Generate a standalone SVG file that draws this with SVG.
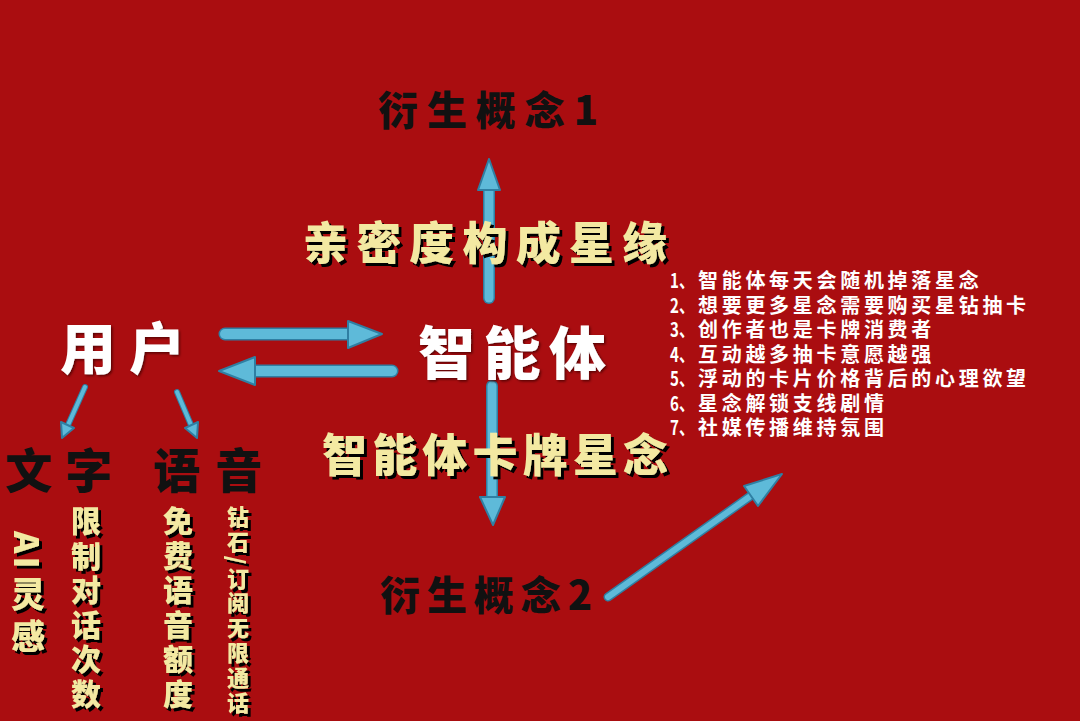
<svg xmlns="http://www.w3.org/2000/svg" width="1080" height="721" viewBox="0 0 1080 721">
<defs>
<filter id="sh" x="-10%" y="-10%" width="130%" height="140%">
<feDropShadow dx="3" dy="3" stdDeviation="0.7" flood-color="#000" flood-opacity="1"/>
</filter>
<filter id="shs" x="-10%" y="-10%" width="130%" height="140%">
<feDropShadow dx="1.5" dy="1.5" stdDeviation="0.8" flood-color="#400" flood-opacity="0.8"/>
</filter>
<style>
text{font-family:"Noto Sans CJK SC","Noto Sans",sans-serif;font-weight:900}
.blk{fill:#111}
.yel{fill:#F3E9A2;filter:url(#sh)}
.wht{fill:#fff;filter:url(#shs)}
.lst{fill:#fff;font-size:20px;font-weight:700}
.ls{letter-spacing:3.7px}
.vt{writing-mode:tb;fill:#F3E9A2;filter:url(#sh)}
.sh{fill:none;stroke:#2F7FA3;stroke-linecap:round}
.si{fill:none;stroke:#5EBAD9;stroke-linecap:round}
.hd{fill:#5EBAD9;stroke:#2F7FA3;stroke-width:2;stroke-linejoin:round}
</style>
</defs>
<rect width="1080" height="721" fill="#AA0D10"/>
<g id="connectors">
<line class="sh" x1="489" y1="298" x2="489" y2="186" stroke-width="12"/>
<line class="si" x1="489" y1="298" x2="489" y2="186" stroke-width="9"/>
<polygon class="hd" points="489,159 478,190 500,190"/>
<line class="sh" x1="492" y1="386" x2="492" y2="500" stroke-width="12"/>
<line class="si" x1="492" y1="386" x2="492" y2="500" stroke-width="9"/>
<polygon class="hd" points="480,497 505,497 493,525"/>
<line class="sh" x1="225" y1="334" x2="352" y2="334" stroke-width="13"/>
<line class="si" x1="225" y1="334" x2="352" y2="334" stroke-width="10"/>
<polygon class="hd" points="348,321 348,348 382,334"/>
<line class="sh" x1="392" y1="371" x2="250" y2="371" stroke-width="13"/>
<line class="si" x1="392" y1="371" x2="250" y2="371" stroke-width="10"/>
<polygon class="hd" points="255,357 255,385 219,371"/>
<line class="sh" x1="85" y1="387" x2="68" y2="425" stroke-width="6"/>
<line class="si" x1="85" y1="387" x2="68" y2="425" stroke-width="4"/>
<polygon class="hd" points="74,428 61,422 62,438"/>
<line class="sh" x1="177" y1="392" x2="191" y2="425" stroke-width="6"/>
<line class="si" x1="177" y1="392" x2="191" y2="425" stroke-width="4"/>
<polygon class="hd" points="198,422 185,428 197,438"/>
<line class="sh" x1="608" y1="597" x2="752" y2="495" stroke-width="9"/>
<line class="si" x1="608" y1="597" x2="752" y2="495" stroke-width="6"/>
<polygon class="hd" points="758,506 744,486 782,474"/>
</g>
<g id="n-derive1"><text class="blk" x="378" y="125" font-size="40" textLength="220" lengthAdjust="spacing">衍生概念1</text></g>
<g id="n-intimacy"><text class="yel" x="303" y="260" font-size="45" textLength="364" lengthAdjust="spacing">亲密度构成星缘</text></g>
<g id="n-user"><text class="wht" x="60" y="369" font-size="56" textLength="125" lengthAdjust="spacing">用户</text></g>
<g id="n-agent"><text class="wht" x="418" y="374" font-size="57" textLength="188" lengthAdjust="spacing">智能体</text></g>
<g id="n-card"><text class="yel" x="322" y="472" font-size="45" textLength="346" lengthAdjust="spacing">智能体卡牌星念</text></g>
<g id="n-derive2"><text class="blk" x="380" y="610" font-size="40" textLength="212" lengthAdjust="spacing">衍生概念2</text></g>
<g id="n-text"><text class="blk" x="5" y="488" font-size="47" textLength="107" lengthAdjust="spacing">文字</text></g>
<g id="n-voice"><text class="blk" x="153" y="488" font-size="47" textLength="109" lengthAdjust="spacing">语音</text></g>
<g id="n-ai"><text class="vt" x="28" y="531" font-size="34"><tspan letter-spacing="3">AI</tspan><tspan dy="6" letter-spacing="8">灵感</tspan></text></g>
<g id="n-limit"><text class="vt" x="86" y="506" font-size="30" letter-spacing="4.5">限制对话次数</text></g>
<g id="n-free"><text class="vt" x="178" y="506" font-size="30" letter-spacing="4.5">免费语音额度</text></g>
<g id="n-vip"><text class="vt" x="238" y="506" font-size="22" letter-spacing="2.9">钻石/订阅无限通话</text></g>
<g id="n-list">
<text class="lst" x="670" y="288" textLength="24" lengthAdjust="spacingAndGlyphs">1、</text><text class="lst ls" x="698" y="288">智能体每天会随机掉落星念</text>
<text class="lst" x="670" y="313" textLength="24" lengthAdjust="spacingAndGlyphs">2、</text><text class="lst ls" x="698" y="313">想要更多星念需要购买星钻抽卡</text>
<text class="lst" x="670" y="337" textLength="24" lengthAdjust="spacingAndGlyphs">3、</text><text class="lst ls" x="698" y="337">创作者也是卡牌消费者</text>
<text class="lst" x="670" y="362" textLength="24" lengthAdjust="spacingAndGlyphs">4、</text><text class="lst ls" x="698" y="362">互动越多抽卡意愿越强</text>
<text class="lst" x="670" y="386" textLength="24" lengthAdjust="spacingAndGlyphs">5、</text><text class="lst ls" x="698" y="386">浮动的卡片价格背后的心理欲望</text>
<text class="lst" x="670" y="411" textLength="24" lengthAdjust="spacingAndGlyphs">6、</text><text class="lst ls" x="698" y="411">星念解锁支线剧情</text>
<text class="lst" x="670" y="435" textLength="24" lengthAdjust="spacingAndGlyphs">7、</text><text class="lst ls" x="698" y="435">社媒传播维持氛围</text>
</g>
</svg>
